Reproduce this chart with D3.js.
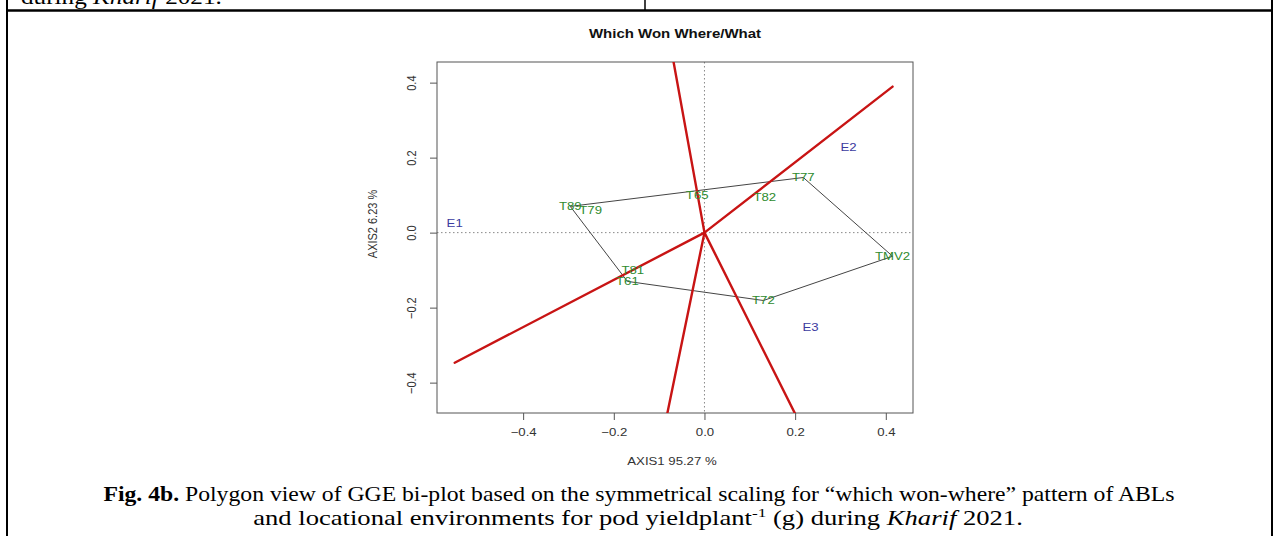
<!DOCTYPE html>
<html>
<head>
<meta charset="utf-8">
<script src="https://cdn.jsdelivr.net/npm/d3@7"></script>
<style>
  html, body { margin: 0; padding: 0; background: #fff; }
  svg { display: block; }
</style>
</head>
<body>
<svg id="chart" width="1274" height="536"></svg>
<script>
// GGE biplot, polygon ("which won where/what") view
const genotypes = ["T89", "T79", "T65", "T82", "T77", "TMV2", "T72", "T81", "T61"];
const genoAxis1 = [-0.296, -0.251, -0.016, 0.133, 0.218, 0.415, 0.130, -0.158, -0.170];
const genoAxis2 = [0.070, 0.058, 0.100, 0.095, 0.147, -0.063, -0.181, -0.100, -0.130];

const environments = ["E1", "E2", "E3"];
const envAxis1 = [-0.551, 0.318, 0.234];
const envAxis2 = [0.024, 0.227, -0.253];

const xTicks = [-0.4, -0.2, 0.0, 0.2, 0.4];
const yTicks = [-0.4, -0.2, 0.0, 0.2, 0.4];

const plotTitle = "Which Won Where/What";
const xLabel = "AXIS1 95.27 %";
const yLabel = "AXIS2 6.23 %";

const svg = d3.select("#chart");
const W = 1274, H = 536;
const SX = 1.2;   // the figure is set wider than tall, glyphs included

// widen a text horizontally about its own anchor point
function widen(sel, sx) {
  sel.each(function () {
    const t = d3.select(this);
    const ax = +t.attr("x") || 0, ay = +t.attr("y") || 0;
    t.attr("transform", `translate(${ax},${ay}) scale(${sx},1) translate(${-ax},${-ay})`);
  });
}
// stretch a centred text line to a given width
function fitWidth(sel, width) {
  const w = sel.node().getComputedTextLength();
  widen(sel, width / w);
}

// page frame of the surrounding table
const frame = svg.append("g").attr("stroke", "#000").attr("fill", "none");
frame.append("line").attr("x1", 7).attr("x2", 7).attr("y1", 0).attr("y2", H).attr("stroke-width", 2);
frame.append("line").attr("x1", 1272).attr("x2", 1272).attr("y1", 0).attr("y2", H).attr("stroke-width", 2);
frame.append("line").attr("x1", 6).attr("x2", 1273).attr("y1", 10.5).attr("y2", 10.5).attr("stroke-width", 2.5);
frame.append("line").attr("x1", 645).attr("x2", 645).attr("y1", 0).attr("y2", 10).attr("stroke-width", 1.5);

const serif = "'Liberation Serif', 'Times New Roman', serif";
const sans = "'Liberation Sans', Arial, Helvetica, sans-serif";

// tail of the previous table row's caption
svg.append("text")
  .attr("x", 21).attr("y", 3.5)
  .attr("font-family", serif)
  .attr("font-size", 21)
  .call(t => {
    t.append("tspan").text("during ");
    t.append("tspan").attr("font-style", "italic").text("Kharif");
    t.append("tspan").text(" 2021.");
  })
  .call(widen, SX);

// plot region
const pLeft = 437, pRight = 913, pTop = 62, pBottom = 413;
const x = d3.scaleLinear().domain([-0.59, 0.46]).range([pLeft, pRight]);
const y = d3.scaleLinear().domain([-0.481, 0.455]).range([pBottom, pTop]);

svg.append("defs").append("clipPath").attr("id", "plotClip")
  .append("rect").attr("x", pLeft).attr("y", pTop)
  .attr("width", pRight - pLeft).attr("height", pBottom - pTop);

// title
svg.append("text")
  .attr("x", 675).attr("y", 38)
  .attr("text-anchor", "middle")
  .attr("font-family", sans).attr("font-weight", "bold").attr("font-size", 12.5)
  .attr("fill", "#111")
  .text(plotTitle)
  .call(widen, SX);

// dotted reference lines through the origin
const refs = svg.append("g").attr("stroke", "#888").attr("stroke-width", 1)
  .attr("stroke-dasharray", "1.5,2.5");
refs.append("line").attr("x1", pLeft).attr("x2", pRight).attr("y1", y(0)).attr("y2", y(0));
refs.append("line").attr("x1", x(0)).attr("x2", x(0)).attr("y1", pTop).attr("y2", pBottom);

// axes
const fmt = d => d3.format(".1f")(d).replace("-", "\u2212");
const xAxis = svg.append("g").attr("transform", `translate(0,${pBottom})`)
  .call(d3.axisBottom(x).tickValues(xTicks).tickFormat(fmt).tickSize(7).tickPadding(8));
const yAxis = svg.append("g").attr("transform", `translate(${pLeft},0)`)
  .call(d3.axisLeft(y).tickValues(yTicks).tickFormat(fmt).tickSize(7).tickPadding(0));
[xAxis, yAxis].forEach(g => {
  g.select(".domain").remove();
  g.selectAll(".tick line").attr("stroke", "#555");
  g.selectAll(".tick text").attr("font-family", sans).attr("font-size", 11).attr("fill", "#333");
});
xAxis.selectAll(".tick text").attr("transform", `scale(${SX},1)`);
yAxis.selectAll(".tick text")
  .attr("x", null).attr("dy", null)
  .attr("text-anchor", "middle")
  .attr("transform", `translate(-25,0) scale(${SX},1) rotate(-90)`)
  .attr("dominant-baseline", "central");

// box
svg.append("rect").attr("x", pLeft).attr("y", pTop)
  .attr("width", pRight - pLeft).attr("height", pBottom - pTop)
  .attr("fill", "none").attr("stroke", "#555").attr("stroke-width", 1);

// axis titles
svg.append("text").attr("x", 672).attr("y", 465)
  .attr("text-anchor", "middle").attr("font-family", sans).attr("font-size", 11).attr("fill", "#333")
  .text(xLabel)
  .call(widen, SX);
svg.append("text")
  .attr("transform", `translate(377,224) scale(${SX},1) rotate(-90)`)
  .attr("text-anchor", "middle").attr("font-family", sans).attr("font-size", 11).attr("fill", "#333")
  .text(yLabel);

// convex hull of the genotype markers
const pts = genotypes.map((g, i) => [genoAxis1[i], genoAxis2[i]]);
const hull = d3.polygonHull(pts);
const plot = svg.append("g").attr("clip-path", "url(#plotClip)");
plot.append("path")
  .attr("d", d3.line().x(d => x(d[0])).y(d => y(d[1])).curve(d3.curveLinearClosed)(hull))
  .attr("fill", "none").attr("stroke", "#444").attr("stroke-width", 1);

// rays from the origin, perpendicular to each polygon side
const allX = genoAxis1.concat(envAxis1);
const xMin = d3.min(allX), xMax = d3.max(allX);
hull.forEach((a, i) => {
  const b = hull[(i + 1) % hull.length];
  const dx = b[0] - a[0], dy = b[1] - a[1];
  const t = -(a[0] * dx + a[1] * dy) / (dx * dx + dy * dy);
  const fx = a[0] + t * dx, fy = a[1] + t * dy;     // foot of perpendicular
  const lim = fx < 0 ? xMin : xMax;
  const k = lim / fx;
  plot.append("line")
    .attr("x1", x(0)).attr("y1", y(0))
    .attr("x2", x(fx * k)).attr("y2", y(fy * k))
    .attr("stroke", "#c81414").attr("stroke-width", 2.4).attr("stroke-linecap", "round");
});

// genotype labels
plot.selectAll("text.geno").data(genotypes).join("text")
  .attr("class", "geno")
  .attr("x", (d, i) => x(genoAxis1[i])).attr("y", (d, i) => y(genoAxis2[i]))
  .attr("text-anchor", "middle").attr("dominant-baseline", "central")
  .attr("font-family", sans).attr("font-size", 11).attr("fill", "#2e8b2e")
  .text(d => d)
  .call(widen, SX);

// environment labels
plot.selectAll("text.env").data(environments).join("text")
  .attr("class", "env")
  .attr("x", (d, i) => x(envAxis1[i])).attr("y", (d, i) => y(envAxis2[i]))
  .attr("text-anchor", "middle").attr("dominant-baseline", "central")
  .attr("font-family", sans).attr("font-size", 11).attr("fill", "#3b3ba0")
  .text(d => d)
  .call(widen, SX);

// figure caption
const cap = svg.append("g").attr("font-family", serif).attr("font-size", 20).attr("fill", "#000");
const line1 = cap.append("text").attr("x", 639).attr("y", 501).attr("text-anchor", "middle");
line1.append("tspan").attr("font-weight", "bold").text("Fig. 4b.");
line1.append("tspan").text(" Polygon view of GGE bi-plot based on the symmetrical scaling for \u201cwhich won-where\u201d pattern of ABLs");
const line2 = cap.append("text").attr("x", 638).attr("y", 525).attr("text-anchor", "middle");
line2.append("tspan").text("and locational environments for pod yieldplant");
line2.append("tspan").attr("font-size", 13).attr("dy", -8).text("-1");
line2.append("tspan").attr("dy", 8).text(" (g) during ");
line2.append("tspan").attr("font-style", "italic").text("Kharif");
line2.append("tspan").text(" 2021.");
fitWidth(line1, 1072);
fitWidth(line2, 770);
</script>
</body>
</html>
